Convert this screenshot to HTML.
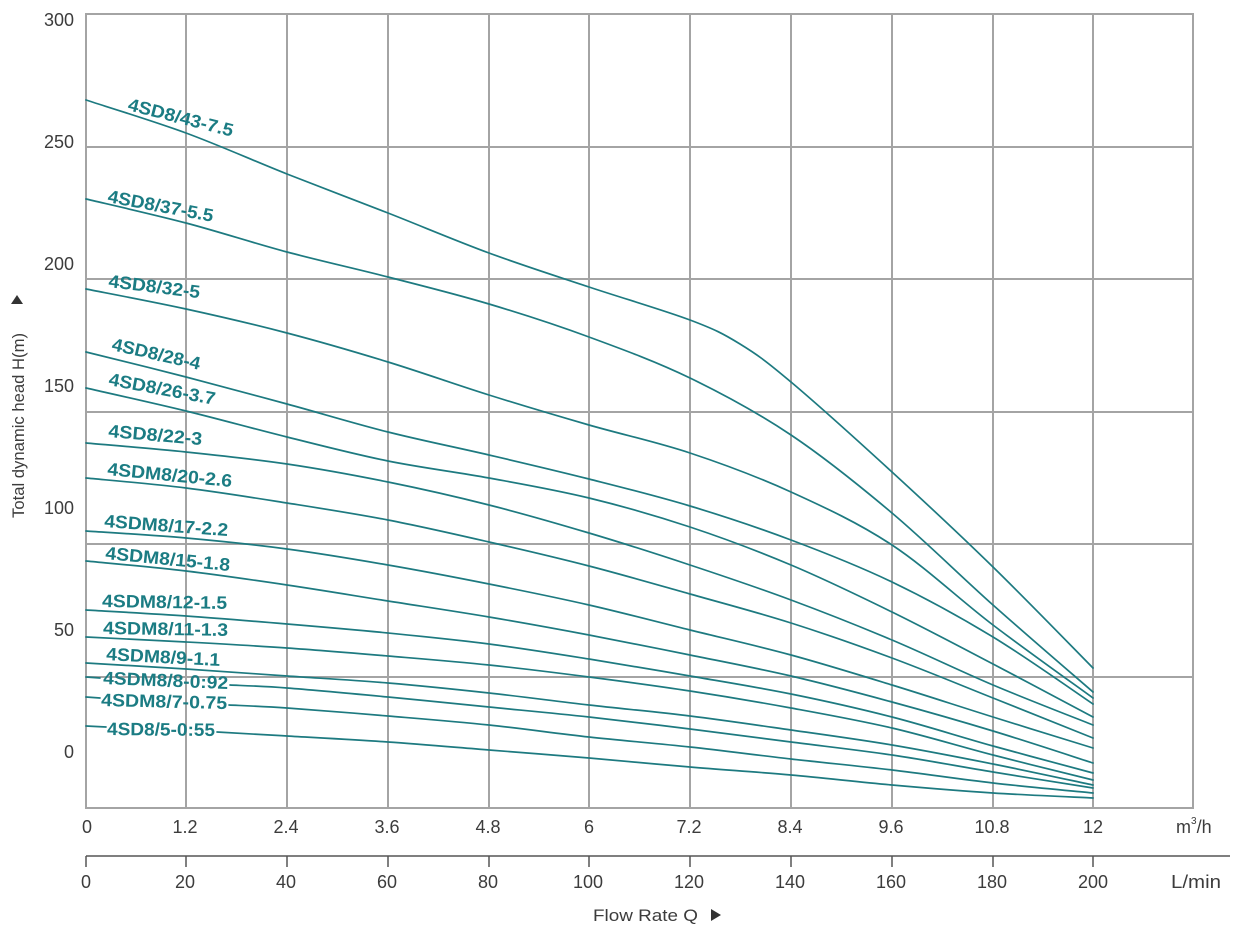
<!DOCTYPE html>
<html>
<head>
<meta charset="utf-8">
<style>
  html,body{margin:0;padding:0;background:#fff;}
  svg{display:block;}
  .ax{font-family:"Liberation Sans",sans-serif;font-size:18px;fill:#3c3c3c;}
  .lb{font-family:"Liberation Sans",sans-serif;font-size:18px;font-weight:bold;fill:#1b7c83;}
  .cv{fill:none;stroke:#1d7a80;stroke-width:1.7;stroke-linejoin:round;stroke-linecap:round;}
  .gr{stroke:#a4a4a4;stroke-width:2;fill:none;}
</style>
</head>
<body>
<svg id="chart" width="1238" height="927" viewBox="0 0 1238 927" xmlns="http://www.w3.org/2000/svg">
  <rect x="0" y="0" width="1238" height="927" fill="#fff"/>

  <!-- grid -->
  <g class="gr">
    <line x1="86" y1="14" x2="86" y2="809"/>
    <line x1="186" y1="14" x2="186" y2="809"/>
    <line x1="287" y1="14" x2="287" y2="809"/>
    <line x1="388" y1="14" x2="388" y2="809"/>
    <line x1="489" y1="14" x2="489" y2="809"/>
    <line x1="589" y1="14" x2="589" y2="809"/>
    <line x1="690" y1="14" x2="690" y2="809"/>
    <line x1="791" y1="14" x2="791" y2="809"/>
    <line x1="892" y1="14" x2="892" y2="809"/>
    <line x1="993" y1="14" x2="993" y2="809"/>
    <line x1="1093" y1="14" x2="1093" y2="809"/>
    <line x1="1193" y1="14" x2="1193" y2="809"/>
    <line x1="85" y1="14" x2="1194" y2="14"/>
    <line x1="85" y1="147" x2="1194" y2="147"/>
    <line x1="85" y1="279" x2="1194" y2="279"/>
    <line x1="85" y1="412" x2="1194" y2="412"/>
    <line x1="85" y1="544" x2="1194" y2="544"/>
    <line x1="85" y1="677" x2="1194" y2="677"/>
    <line x1="85" y1="808" x2="1194" y2="808"/>
  </g>

  <!-- curves -->
  <g class="cv" id="curves">
    <polyline points="86,100 186,133 287,174 388,213 489,253 589,287 690,320 740,344 791,382 892,472 993,567 1093,668"/>
    <polyline points="86,199 186,223 287,252 388,277 489,304 589,337 690,378 791,435 892,513 993,605 1093,692"/>
    <polyline points="86,289 186,309 287,333 388,362 489,395 589,425 690,453 791,492 892,545 993,625 1093,698"/>
    <polyline points="86,352 186,377 287,404 388,432 489,455 589,479 690,506 791,540 892,582 993,637 1093,704"/>
    <polyline points="86,388 186,411 287,437 388,461 489,478 589,498 690,527 791,565 892,612 993,664 1093,717"/>
    <polyline points="86,443 186,452 287,464 388,482 489,505 589,533 690,565 791,600 892,640 993,685 1093,725"/>
    <polyline points="86,478 186,488 287,503 388,520 489,542 589,566 690,594 791,623 892,658 993,698 1093,738"/>
    <polyline points="86,531 186,538 287,549 388,565 489,584 589,605 690,630 791,655 892,685 993,717 1093,748"/>
    <polyline points="86,561 186,571 287,585 388,601 489,617 589,635 690,655 791,676 892,702 993,731 1093,763"/>
    <polyline points="86,610 186,616 287,624 388,633 489,644 589,659 690,676 791,694 892,717 993,746 1093,773"/>
    <polyline points="86,637 186,642 287,648 388,656 489,665 589,677 690,691 791,708 892,728 993,755 1093,780"/>
    <polyline points="86,663 186,669 287,676 388,683 489,693 589,705 690,716 791,730 892,745 993,764 1093,785"/>
    <polyline points="86,677 100,678"/>
    <polyline points="230,685 287,688 388,697 489,707 589,717 690,729 791,742 892,755 993,772 1093,788"/>
    <polyline points="86,697 100,698"/>
    <polyline points="229,705 287,708 388,716 489,725 589,737 690,747 791,759 892,770 993,783 1093,793"/>
    <polyline points="86,726 106,727"/>
    <polyline points="217,732 287,736 388,742 489,750 589,758 690,767 791,775 892,785 993,793 1093,798"/>
  </g>

  <!-- curve labels -->
  <g class="lb">
    <text x="127" y="110" transform="rotate(14.3 127 110)" textLength="108" lengthAdjust="spacingAndGlyphs">4SD8/43-7.5</text>
    <text x="107" y="202" transform="rotate(10.7 107 202)" textLength="107" lengthAdjust="spacingAndGlyphs">4SD8/37-5.5</text>
    <text x="108" y="287" transform="rotate(7 108 287)" textLength="92" lengthAdjust="spacingAndGlyphs">4SD8/32-5</text>
    <text x="111" y="350" transform="rotate(12.7 111 350)" textLength="90" lengthAdjust="spacingAndGlyphs">4SD8/28-4</text>
    <text x="108" y="385" transform="rotate(10.6 108 385)" textLength="108" lengthAdjust="spacingAndGlyphs">4SD8/26-3.7</text>
    <text x="108" y="437" transform="rotate(4.9 108 437)" textLength="94" lengthAdjust="spacingAndGlyphs">4SD8/22-3</text>
    <text x="107" y="475" transform="rotate(5.5 107 475)" textLength="125" lengthAdjust="spacingAndGlyphs">4SDM8/20-2.6</text>
    <text x="104" y="527" transform="rotate(4.2 104 527)" textLength="124" lengthAdjust="spacingAndGlyphs">4SDM8/17-2.2</text>
    <text x="105" y="559" transform="rotate(5.5 105 559)" textLength="125" lengthAdjust="spacingAndGlyphs">4SDM8/15-1.8</text>
    <text x="102" y="607" transform="rotate(0.9 102 607)" textLength="125" lengthAdjust="spacingAndGlyphs">4SDM8/12-1.5</text>
    <text x="103" y="634" transform="rotate(0.9 103 634)" textLength="125" lengthAdjust="spacingAndGlyphs">4SDM8/11-1.3</text>
    <text x="106" y="660" transform="rotate(3 106 660)" textLength="114" lengthAdjust="spacingAndGlyphs">4SDM8/9-1.1</text>
    <text x="103" y="684" transform="rotate(2.3 103 684)" textLength="125" lengthAdjust="spacingAndGlyphs">4SDM8/8-0:92</text>
    <text x="101" y="706" transform="rotate(1.4 101 706)" textLength="126" lengthAdjust="spacingAndGlyphs">4SDM8/7-0.75</text>
    <text x="107" y="735" transform="rotate(0.5 107 735)" textLength="108" lengthAdjust="spacingAndGlyphs">4SD8/5-0:55</text>
  </g>

  <!-- y axis labels -->
  <g class="ax" text-anchor="end">
    <text x="74" y="26">300</text>
    <text x="74" y="148">250</text>
    <text x="74" y="270">200</text>
    <text x="74" y="392">150</text>
    <text x="74" y="514">100</text>
    <text x="74" y="636">50</text>
    <text x="74" y="758">0</text>
  </g>

  <!-- y title -->
  <polygon points="11,304 23,304 17,295" fill="#333"/>
  <text x="24" y="518" transform="rotate(-90 24 518)" font-family="Liberation Sans, sans-serif" font-size="16.5" fill="#3c3c3c" textLength="185" lengthAdjust="spacingAndGlyphs">Total dynamic head H(m)</text>

  <!-- x axis m3/h -->
  <g class="ax" text-anchor="middle">
    <text x="87" y="833">0</text>
    <text x="185" y="833">1.2</text>
    <text x="286" y="833">2.4</text>
    <text x="387" y="833">3.6</text>
    <text x="488" y="833">4.8</text>
    <text x="589" y="833">6</text>
    <text x="689" y="833">7.2</text>
    <text x="790" y="833">8.4</text>
    <text x="891" y="833">9.6</text>
    <text x="992" y="833">10.8</text>
    <text x="1093" y="833">12</text>
  </g>
  <text class="ax" x="1176" y="833">m<tspan font-size="10" dy="-9">3</tspan><tspan dy="9">/h</tspan></text>

  <!-- second axis L/min -->
  <g stroke="#555" stroke-width="1.5" fill="none">
    <line x1="86" y1="856" x2="1230" y2="856"/>
    <line x1="86" y1="856" x2="86" y2="867"/>
    <line x1="186" y1="856" x2="186" y2="867"/>
    <line x1="287" y1="856" x2="287" y2="867"/>
    <line x1="388" y1="856" x2="388" y2="867"/>
    <line x1="489" y1="856" x2="489" y2="867"/>
    <line x1="589" y1="856" x2="589" y2="867"/>
    <line x1="690" y1="856" x2="690" y2="867"/>
    <line x1="791" y1="856" x2="791" y2="867"/>
    <line x1="892" y1="856" x2="892" y2="867"/>
    <line x1="993" y1="856" x2="993" y2="867"/>
    <line x1="1093" y1="856" x2="1093" y2="867"/>
  </g>
  <g class="ax" text-anchor="middle">
    <text x="86" y="888">0</text>
    <text x="185" y="888">20</text>
    <text x="286" y="888">40</text>
    <text x="387" y="888">60</text>
    <text x="488" y="888">80</text>
    <text x="588" y="888">100</text>
    <text x="689" y="888">120</text>
    <text x="790" y="888">140</text>
    <text x="891" y="888">160</text>
    <text x="992" y="888">180</text>
    <text x="1093" y="888">200</text>
  </g>
  <text class="ax" x="1171" y="888" textLength="50" lengthAdjust="spacingAndGlyphs">L/min</text>

  <!-- x title -->
  <text x="593" y="921" font-family="Liberation Sans, sans-serif" font-size="16.5" fill="#3c3c3c" textLength="105" lengthAdjust="spacingAndGlyphs">Flow Rate Q</text>
  <polygon points="711,909 711,921 721,915" fill="#333"/>
</svg>
<script>
(function(){
  var ns = "http://www.w3.org/2000/svg";
  var g = document.getElementById("curves");
  if(!g) return;
  var pls = g.querySelectorAll("polyline");
  for(var i=0;i<pls.length;i++){
    var pl = pls[i];
    var raw = pl.getAttribute("points").trim().split(/\s+/);
    if(raw.length < 3) continue;
    var P = raw.map(function(s){var a=s.split(",");return [parseFloat(a[0]),parseFloat(a[1])];});
    var d = "M"+P[0][0]+","+P[0][1];
    for(var k=0;k<P.length-1;k++){
      var p0 = P[k-1]||P[k], p1=P[k], p2=P[k+1], p3=P[k+2]||P[k+1];
      var c1x = p1[0]+(p2[0]-p0[0])/6, c1y = p1[1]+(p2[1]-p0[1])/6;
      var c2x = p2[0]-(p3[0]-p1[0])/6, c2y = p2[1]-(p3[1]-p1[1])/6;
      d += " C"+c1x.toFixed(2)+","+c1y.toFixed(2)+" "+c2x.toFixed(2)+","+c2y.toFixed(2)+" "+p2[0]+","+p2[1];
    }
    var path = document.createElementNS(ns,"path");
    path.setAttribute("d",d);
    g.insertBefore(path,pl);
    pl.parentNode.removeChild(pl);
  }
})();
</script>
</body>
</html>
